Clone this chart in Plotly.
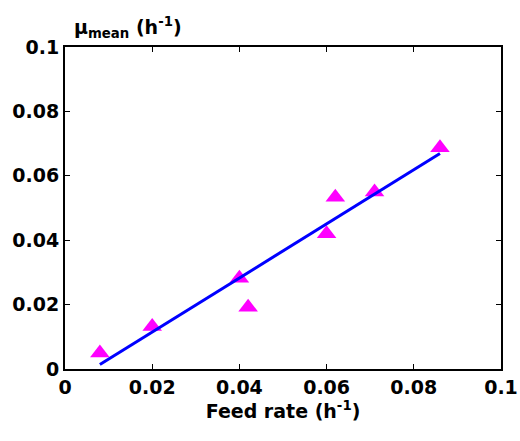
import plotly.graph_objects as go

feed_rate = [0.008, 0.020, 0.040, 0.042, 0.060, 0.062, 0.071, 0.086]
mu_mean = [0.0050, 0.0132, 0.0282, 0.0192, 0.0420, 0.0533, 0.0550, 0.0687]
fit_x = [0.008, 0.086]
fit_y = [0.0014, 0.0669]
tick_vals = [0, 0.02, 0.04, 0.06, 0.08, 0.1]
tick_text = ["0", "0.02", "0.04", "0.06", "0.08", "0.1"]

FONT = dict(family="DejaVu Sans", size=19, color="black", weight="bold")

fig = go.Figure()
fig.add_trace(go.Scatter(x=feed_rate, y=mu_mean, mode="markers",
                         marker=dict(symbol="triangle-up", size=17, color="#ff00ff"),
                         showlegend=False))
fig.add_trace(go.Scatter(x=fit_x, y=fit_y, mode="lines",
                         line=dict(color="#0000ff", width=3), showlegend=False))

axis_common = dict(showline=True, linecolor="black", linewidth=2, mirror="ticks",
                   ticks="inside", ticklen=5, tickcolor="black", tickwidth=1,
                   showgrid=False, zeroline=False, tickvals=tick_vals, ticktext=tick_text,
                   tickfont=FONT, automargin=False)

fig.update_xaxes(range=[0, 0.1], title=dict(text="Feed rate (h<sup>-1</sup>)", standoff=4,
                 font=FONT), **axis_common)
fig.update_yaxes(range=[0, 0.1], **axis_common)

fig.add_annotation(text="μ<sub>mean</sub> (h<sup>-1</sup>)", xref="paper", yref="paper",
                   x=0.0, y=1.0, xanchor="left", yanchor="bottom", showarrow=False,
                   yshift=4, xshift=7, font=FONT)

fig.update_layout(width=520, height=441, margin=dict(l=65, r=19, t=47, b=72),
                  plot_bgcolor="white", paper_bgcolor="white")

fig.write_html("out.html", config={"displayModeBar": False},
               post_script="document.body.style.margin='0px';document.body.style.padding='0px';")
